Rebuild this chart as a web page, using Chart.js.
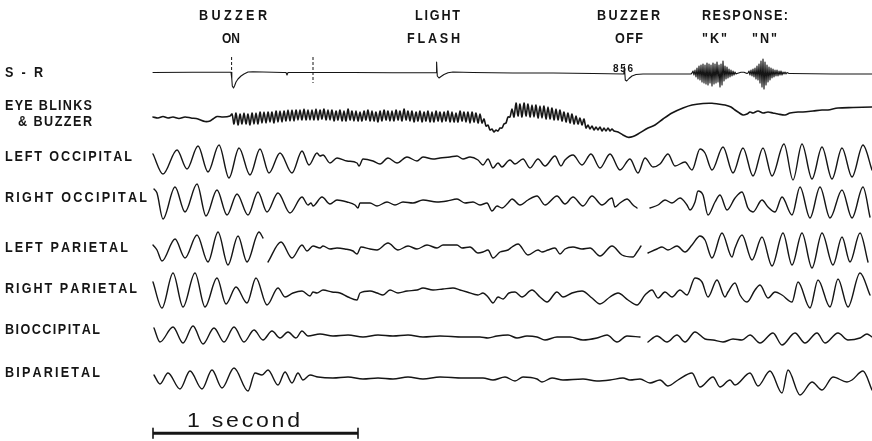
<!DOCTYPE html>
<html><head><meta charset="utf-8">
<script src="https://cdn.jsdelivr.net/npm/chart.js@4/dist/chart.umd.min.js"></script>
<style>html,body{margin:0;padding:0;background:#fff}canvas{display:block}</style>
</head><body>
<canvas id="c" width="872" height="441"></canvas>
<script>
// ---- DATA: samples (205 per second) and pen deflection (up = positive) ----
const SAMPLE_RATE = 205;
const CHANNELS = ['S - R','EYE BLINKS|& BUZZER','LEFT OCCIPITAL','RIGHT OCCIPITAL','LEFT PARIETAL','RIGHT PARIETAL','BIOCCIPITAL','BIPARIETAL'];
const EVENTS = [['BUZZER','ON'],['LIGHT','FLASH'],['BUZZER','OFF'],['RESPONSE:','"K"','"N"']];
const MARK_CODE = '856';
const SCALE_LABEL = '1 second';

const SR_TRACE = [[0,0.5],[40,0.7],[78,0.7],[78.8,-6],[79.3,-13],[80.5,-15],[81.5,-13],[83,-9],[85,-6],[88,-3],[91,-1],[95,1],[100,1.3],[110,1],[130,0.5],[133,0.5],[134,-2],[135,0.5],[200,0.5],[240,0.3],[283,0.3],[283.6,11],[284.3,-3],[286,-5],[288,-3.5],[291,-1.5],[295,0.3],[300,1],[320,0.5],[360,0],[400,0],[440,-0.5],[470.8,-1],[471.4,6.5],[472.3,-7],[473.7,-8],[476,-5.5],[479,-3],[483,-1.5],[490,-1],[520,-1],[538,-1],
[539,0],[540,2],[541,-2],[542,3],[543,-4],[544,5],[545,-6],[546,7],[547,-7],[548,8],[549,-9],[550,9],[551,-10],[552,8],[553,-11],[554,10],[555,-12],[556,9],[557,-10],[558,8],[559,-13],[560,10],[561,-11],[562,9],[563,-10],[564,11],[565,-9],[566,8],[567,-14],[568,9],[569,-12],[570,12],[571,-8],[572,7],[573,-6],[574,6],[575,-5],[576,4],[577,-4],[578,3],[579,-3],[580,2],[581,-2],[582,1],[583,-1],[584,-0.5],
[588,0.8],[591,0.8],[594,-0.5],
[595,0],[596,2],[597,-2],[598,3],[599,-3],[600,4],[601,-4],[602,5],[603,-6],[604,7],[605,-7],[606,9],[607,-10],[608,12],[609,-14],[610,14],[611,-16],[612,11],[613,-12],[614,8],[615,-9],[616,6],[617,-7],[618,5],[619,-5],[620,4],[621,-4],[622,3],[623,-3],[624,3],[625,-3],[626,2],[627,-2],[628,2],[629,-2],[630,1],[631,-1],[632,1],[633,-1],[634,0.5],[636,-0.5],[638,-0.5],[680,-1],[719,-1]];
// event marker strokes on the S-R channel (sample, deflection)
const SR_MARK_ON = [[78.6,16],[78.6,0.7]];
const SR_MARK_2 = [[160,16],[160,-10]];

const EYE_PRE = [[0,1],[5,0],[10,1.5],[15,0],[20,1],[26,-0.5],[32,1],[38,0],[45,-1],[52,-3.5],[57,-3],[60,-1],[64,1.5],[70,1],[77,2]];
const EYE_RIPPLE_START = 79, EYE_RIPPLE_STEP = 2;
const EYE_RIPPLE = [4,-6,5,-7,4,-6,5,-6,4,-7,5,-6,5,-6,6,
-5,6,-5,6,-4,6,-5,7,-4,7,-4,7,-3,8,-3,8,-3,8,-2,8,-2,9,-2,8,-2,8,-2,9,-2,8,-1,9,-2,8,-2,
8,-3,7,-2,8,-3,7,-3,9,-2,7,-3,7,-3,6,-3,7,-2,8,-3,7,-3,6,-4,7,-3,8,-2,7,-3,7,-3,8,-2,7,-3,9,-2,7,-3,7,-4,6,-3,7,
-4,6,-3,7,-4,6,-4,7,-3,6,-4,6,-3,7,-4,6,-4,5,-4,7,-3,6,-4,6,-5,6,-4,5,-5,4,
-5,-1,-8,-7,-12,-11,-14,-12,-13,-10,-10,-6,-5,1,1,9,
1,15,2,14,1,15,2,14,1,13,
1,13,0,12,0,12,-1,11,-1,10,-2,9,-2,8,-3,6,-4,5,-5,4,-6,2,-6,0,-7,-1,
-10,-7,-11,-8,-12,-9,-12,-9,-13,-10,-13,-10,-13,-11,-13];
const EYE_POST = [[465,-14],[470,-17],[475,-19.3],[480,-18.5],[485,-16],[495,-10],[502,-7],[510,-1],[519,5],[530,10],[539,13],[550,14.5],[559,14.7],[565,14],[572,13],[578,11],[582,8],[585,6],[590,3],[594,4],[597,6],[600,5],[605,7],[610,5],[615,6],[620,5],[625,4],[632,3],[637,5],[645,6],[650,6],[660,7],[669,8],[675,8],[685,10],[700,10.5],[719,11]];

const LEFT_OCC = [[0,7],[10,-13],[24,11],[34,-8],[45,15],[55,-11],[66,16],[76,-17],[86,13],[97,-14],[107,12],[116,-12],[127,8],[139,-12],[149,10],[156,-4],[164,8],[167,5],[170,6],[177,-2],[184,3],[194,0],[204,-2],[206,-5],[210,2],[220,0],[227,-3],[235,3],[244,-2],[254,4],[264,0],[270,4],[280,2],[287,3],[297,4],[304,5],[310,2],[317,4],[325,1],[330,-4],[335,2],[340,-7],[345,-2],[349,-6],[355,0],[357,1],[362,-3],[370,2],[377,-7],[385,2],[392,-5],[402,5],[408,-5],[412,1],[420,6],[429,-4],[438,7],[447,-7],[457,7],[467,-9],[477,2],[485,-12],[492,3],[500,-6],[507,-3],[515,7],[522,-5],[532,-1],[539,-9],[547,12],[552,8],[559,-9],[570,14],[580,-12],[590,13],[600,-15],[610,13],[619,-15],[631,17],[640,-19],[649,17],[659,-18],[669,14],[679,-18],[689,13],[699,-16],[710,16],[719,-9]];

const RIGHT_OCC = [[1,13],[4,9],[10,-17],[22,15],[32,-10],[44,18],[53,-14],[64,12],[74,-13],[84,8],[95,-13],[105,10],[114,-10],[125,9],[137,-11],[149,5],[155,-3],[158,-1],[160,-4],[169,5],[177,-2],[184,2],[194,0],[202,-3],[205,-6],[207,-1],[217,-1],[224,-4],[234,0],[242,-3],[250,0],[260,-1],[270,2],[284,0],[294,1],[304,3],[312,-1],[320,0],[327,-3],[334,-1],[339,-9],[344,-4],[349,-6],[355,-1],[359,3],[367,-3],[375,2],[384,6],[392,-3],[404,6],[412,-2],[420,5],[430,-4],[439,6],[449,-3],[459,4],[462,-5],[467,-1],[474,3],[480,-3],[484,-6],[490,null],[497,-6],[505,-3],[512,2],[519,-1],[527,4],[534,-3],[537,-8],[542,0],[545,11],[550,7],[555,-13],[562,0],[567,7],[574,-8],[582,4],[589,10],[595,-6],[600,-10],[609,2],[615,-5],[622,-10],[629,5],[639,-13],[647,15],[657,-16],[667,15],[677,-16],[689,12],[699,-16],[710,15],[717,-15]];

const LEFT_PAR = [[0,5],[4,0],[9,-11],[22,11],[32,-8],[44,15],[55,-12],[65,18],[75,-15],[85,14],[94,-12],[106,18],[110,12],[112,null],[115,-12],[128,8],[139,-8],[149,5],[154,-1],[160,4],[167,2],[170,4],[177,1],[184,2],[192,1],[200,-1],[204,-4],[208,3],[217,1],[224,0],[235,7],[245,0],[255,4],[264,1],[274,5],[284,2],[290,5],[304,5],[309,2],[317,3],[325,-3],[330,-2],[335,0],[340,-8],[347,-2],[355,0],[359,3],[365,6],[375,-5],[385,0],[389,-2],[395,0],[402,2],[407,-4],[412,1],[420,3],[429,1],[437,2],[447,-6],[459,4],[469,-5],[480,-7],[484,-2],[488,4],[491,null],[495,-3],[504,1],[509,3],[515,0],[524,4],[532,-2],[539,5],[547,14],[552,10],[559,-8],[569,17],[579,-7],[582,2],[589,15],[599,-10],[609,13],[619,-16],[630,17],[639,-15],[649,17],[659,-18],[669,17],[680,-15],[689,13],[697,-12],[707,17],[715,-12]];

const RIGHT_PAR = [[0,10],[9,-16],[20,19],[30,-15],[42,19],[52,-15],[64,14],[73,-12],[83,5],[94,-11],[103,14],[114,-13],[125,4],[132,-5],[140,-1],[149,1],[157,-4],[160,0],[164,-1],[170,2],[179,0],[187,-1],[195,-5],[204,-8],[207,-1],[217,1],[224,-1],[230,-3],[237,2],[245,-1],[254,1],[264,2],[270,4],[280,2],[290,3],[300,4],[307,2],[314,0],[325,-3],[330,-1],[335,-5],[340,-11],[345,-5],[350,-7],[356,-1],[362,0],[369,-5],[379,2],[387,-5],[394,-10],[404,0],[410,-5],[419,-1],[429,1],[439,-6],[447,-12],[457,-5],[465,-1],[475,-8],[484,-13],[492,-3],[499,2],[505,-6],[512,0],[519,-5],[527,2],[534,-3],[542,14],[549,10],[555,-5],[564,12],[572,-5],[575,0],[582,9],[587,-3],[594,-10],[602,2],[607,7],[615,-6],[622,0],[629,-3],[639,-10],[645,10],[657,-16],[665,12],[677,-15],[685,13],[695,-15],[707,19],[717,-3]];

const BIOCC = [[1,8],[7,-6],[20,9],[30,-7],[40,10],[50,-8],[61,8],[71,-6],[81,9],[91,-6],[101,6],[110,-4],[119,5],[127,-2],[135,4],[143,-2],[149,5],[155,0],[167,2],[180,0],[195,1],[210,-1],[225,1],[240,0],[255,1],[270,-1],[287,0],[310,-1],[327,-1],[335,-2],[344,0],[355,1],[364,-2],[374,0],[384,-1],[392,-4],[404,-1],[417,-1],[430,-4],[444,-2],[454,1],[464,-6],[474,0],[487,-1],[489,null],[495,-6],[504,0],[514,-6],[524,1],[532,-6],[542,4],[552,-3],[560,-4],[570,-6],[580,-3],[589,-4],[597,1],[607,-7],[620,3],[629,-9],[642,3],[652,-7],[664,3],[672,-7],[685,3],[695,-4],[707,-2],[714,2],[719,-1]];

const BIPAR = [[1,4],[7,-5],[15,6],[27,-10],[37,8],[49,-10],[59,9],[69,-9],[81,11],[95,-12],[102,6],[109,4],[115,9],[125,-6],[132,7],[139,-4],[145,6],[150,-1],[157,4],[165,2],[180,1],[195,2],[210,0],[225,1],[240,0],[255,2],[270,0],[287,2],[310,1],[330,1],[340,-1],[352,2],[362,-2],[370,2],[384,0],[389,-3],[399,1],[410,-1],[430,0],[444,-2],[457,-1],[470,1],[477,-1],[487,0],[497,-4],[507,-1],[515,-7],[525,-1],[539,6],[547,-8],[560,2],[567,-8],[577,-1],[582,-6],[597,6],[605,-7],[617,8],[629,-14],[635,9],[647,-16],[659,-3],[669,-11],[680,2],[694,-3],[699,-1],[710,8],[719,-11]];

// ---- LAYOUT (not data) ----
const LANES = {sr:368, eye:323, lo:280, ro:239, lp:191, rp:149, bo:105, bp:62, bar:7.7};
const INK = '#151515';

function pts(arr, lane){ return arr.map(([x,a]) => ({x, y: a===null ? null : lane + a})); }
const eyeData = pts(EYE_PRE, LANES.eye)
  .concat(EYE_RIPPLE.map((a,i)=>({x: EYE_RIPPLE_START + i*EYE_RIPPLE_STEP, y: LANES.eye + a})))
  .concat(pts(EYE_POST, LANES.eye));

function ds(data, opts){ return Object.assign({data, borderColor:INK, borderWidth:1.4, pointRadius:0, fill:false, spanGaps:false, borderJoinStyle:'round', borderCapStyle:'round'}, opts||{}); }
const eeg = {cubicInterpolationMode:'monotone'};
const datasets = [
  ds(pts(SR_TRACE, LANES.sr), {tension:0, borderWidth:1.1}),
  ds(pts(SR_MARK_ON, LANES.sr), {tension:0, borderWidth:1, borderDash:[3,2], borderCapStyle:'butt'}),
  ds(pts(SR_MARK_2, LANES.sr), {tension:0, borderWidth:1, borderDash:[3,2], borderCapStyle:'butt'}),
  ds(eyeData, {tension:0.3, borderWidth:1.6}),
  ds(pts(LEFT_OCC, LANES.lo), eeg),
  ds(pts(RIGHT_OCC, LANES.ro), eeg),
  ds(pts(LEFT_PAR, LANES.lp), eeg),
  ds(pts(RIGHT_PAR, LANES.rp), eeg),
  ds(pts(BIOCC, LANES.bo), eeg),
  ds(pts(BIPAR, LANES.bp), eeg),
  ds([{x:0,y:LANES.bar},{x:SAMPLE_RATE,y:LANES.bar}], {tension:0, borderWidth:3, borderCapStyle:'butt'}),
  ds([{x:0,y:LANES.bar+5},{x:0,y:LANES.bar-5},{x:SAMPLE_RATE/2,y:null},{x:SAMPLE_RATE,y:LANES.bar+5},{x:SAMPLE_RATE,y:LANES.bar-5}], {tension:0, borderWidth:1.6})
];

function drawSpaced(ctx, text, x, y, w, font, sx){
  ctx.font = font;
  const chars = [...text];
  let k = sx;
  let cw = chars.map(c => ctx.measureText(c).width * k);
  let total = cw.reduce((a,b)=>a+b,0);
  let sp = chars.length > 1 ? (w - total)/(chars.length - 1) : 0;
  if (sp < 0 || chars.length === 1){ k = k * w / total; cw = cw.map(v => v * w / total); sp = 0; }
  let cx = x;
  chars.forEach((c,i) => { ctx.save(); ctx.translate(cx, y); ctx.scale(k, 1); ctx.fillText(c, 0, 0); ctx.restore(); cx += cw[i] + sp; });
}

const LABEL_FONT = "bold 14px 'Liberation Sans', Arial, sans-serif";
const LABEL_SX = 0.9;
const chLayout = [[[5,77,38]],[[5,110,87],[18,126,74]],[[5,161,127]],[[5,202,142]],[[5,252,123]],[[5,293,132]],[[5,334,95]],[[5,377,95]]];
const evLayout = [[[199,20,68],[222,43,18]],[[415,20,45],[407,43,53]],[[597,20,63],[615,43,28]],[[702,20,86],[702,43,25],[752,43,25]]];

const textPlugin = {
  id:'texts',
  afterDatasetsDraw(chart){
    const ctx = chart.ctx;
    ctx.save();
    ctx.fillStyle = INK;
    ctx.textBaseline = 'alphabetic';
    CHANNELS.forEach((name,i) => {
      name.split('|').forEach((t,j) => { const [x,y,w] = chLayout[i][j]; drawSpaced(ctx, t, x, y, w, LABEL_FONT, LABEL_SX); });
    });
    EVENTS.forEach((ev,i) => ev.forEach((t,j) => { const [x,y,w] = evLayout[i][j]; drawSpaced(ctx, t, x, y, w, LABEL_FONT, LABEL_SX); }));
    drawSpaced(ctx, MARK_CODE, 613, 72, 20, "bold 10px 'Liberation Sans', Arial, sans-serif", 1);
    drawSpaced(ctx, SCALE_LABEL, 187, 427, 113, "21px 'Liberation Sans', Arial, sans-serif", 1.1);
    ctx.restore();
  }
};

new Chart(document.getElementById('c'), {
  type:'line',
  data:{datasets},
  options:{
    responsive:false, animation:false, devicePixelRatio:1, events:[],
    layout:{padding:0},
    plugins:{legend:{display:false}, tooltip:{enabled:false}, title:{display:false}},
    scales:{
      x:{type:'linear', min:-153, max:719, display:false},
      y:{type:'linear', min:0, max:441, display:false}
    },
    elements:{point:{radius:0}}
  },
  plugins:[textPlugin]
});
</script>
</body></html>
